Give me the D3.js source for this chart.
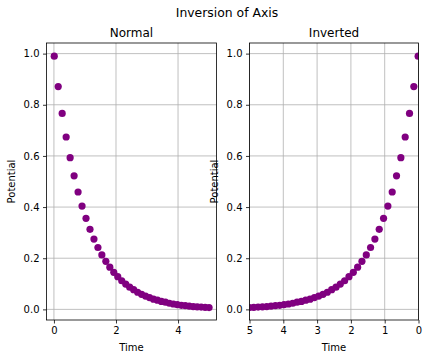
<!DOCTYPE html>
<html><head><meta charset="utf-8">
<script src="https://cdn.jsdelivr.net/npm/d3@7"></script>
<style>body{margin:0;background:#fff}svg{display:block;font-family:"DejaVu Sans",sans-serif}</style>
</head><body>
<script>
const times = [0.010,0.138,0.266,0.394,0.522,0.650,0.778,0.906,1.034,1.162,1.290,1.418,1.545,1.673,1.801,1.929,2.057,2.185,2.313,2.441,2.569,2.697,2.825,2.953,3.081,3.209,3.337,3.465,3.593,3.721,3.849,3.977,4.105,4.233,4.361,4.489,4.617,4.745,4.873,5.000];
const potential = [0.990,0.871,0.766,0.674,0.593,0.522,0.459,0.404,0.356,0.313,0.275,0.242,0.213,0.188,0.165,0.145,0.128,0.112,0.099,0.087,0.077,0.067,0.059,0.052,0.046,0.040,0.036,0.031,0.028,0.024,0.021,0.019,0.016,0.015,0.013,0.011,0.010,0.009,0.008,0.007];
const yTicks = [0.0,0.2,0.4,0.6,0.8,1.0];
const xTicksNormal = [0,2,4];
const xTicksInverted = [5,4,3,2,1,0];
const titles = ["Normal","Inverted"];

const W=429,H=360;
const svg=d3.select("body").append("svg").attr("width",W).attr("height",H);
svg.append("text").attr("x",227).attr("y",17).attr("text-anchor","middle").attr("font-size",12.4).text("Inversion of Axis");

const pTop=43,pBottom=320;
const panels=[
 {left:46.5,right:216.5,xdom:[-0.2395,5.2395],ticks:xTicksNormal,title:titles[0]},
 {left:249.5,right:418.5,xdom:[5,0],ticks:xTicksInverted,title:titles[1]}
];
const data=times.map((t,i)=>({t,p:potential[i]}));
panels.forEach((pn,k)=>{
  const x=d3.scaleLinear().domain(pn.xdom).range([pn.left,pn.right]);
  const y=d3.scaleLinear().domain([-0.0415,1.0415]).range([pBottom,pTop]);
  const g=svg.append("g");
  g.selectAll(".gx").data(pn.ticks).join("line").attr("x1",d=>x(d)).attr("x2",d=>x(d)).attr("y1",pTop).attr("y2",pBottom).attr("stroke","#b0b0b0").attr("stroke-width",0.8);
  g.selectAll(".gy").data(yTicks).join("line").attr("y1",d=>y(d)).attr("y2",d=>y(d)).attr("x1",pn.left).attr("x2",pn.right).attr("stroke","#b0b0b0").attr("stroke-width",0.8);
  const cid="clip"+k;
  svg.append("clipPath").attr("id",cid).append("rect").attr("x",pn.left).attr("y",pTop).attr("width",pn.right-pn.left).attr("height",pBottom-pTop);
  g.append("g").attr("clip-path",`url(#${cid})`).selectAll("circle").data(data).join("circle")
   .attr("cx",d=>x(d.t)).attr("cy",d=>y(d.p)).attr("r",3.6).attr("fill","#800080");
  const xa=d3.axisBottom(x).tickValues(pn.ticks).tickFormat(d3.format("d")).tickSize(3.5).tickPadding(3.5);
  const ya=d3.axisLeft(y).tickValues(yTicks).tickFormat(d3.format(".1f")).tickSize(3.5).tickPadding(3.5);
  const gx=g.append("g").attr("transform",`translate(0,${pBottom})`).call(xa);
  const gy=g.append("g").attr("transform",`translate(${pn.left},0)`).call(ya);
  [gx,gy].forEach(a=>{a.select(".domain").remove();a.selectAll("text").attr("font-size",10).attr("font-family","DejaVu Sans").attr("fill","#000");a.selectAll("line").attr("stroke","#000").attr("stroke-width",0.8);});
  g.append("rect").attr("x",pn.left).attr("y",pTop).attr("width",pn.right-pn.left).attr("height",pBottom-pTop).attr("fill","none").attr("stroke","#000").attr("stroke-width",0.8);
  g.append("text").attr("x",(pn.left+pn.right)/2).attr("y",pTop-6).attr("text-anchor","middle").attr("font-size",12).text(pn.title);
  g.append("text").attr("x",(pn.left+pn.right)/2).attr("y",351).attr("text-anchor","middle").attr("font-size",10).text("Time");
  g.append("text").attr("transform",`translate(${pn.left-32},${(pTop+pBottom)/2}) rotate(-90)`).attr("text-anchor","middle").attr("font-size",10).text("Potential");
});
</script>
</body></html>
